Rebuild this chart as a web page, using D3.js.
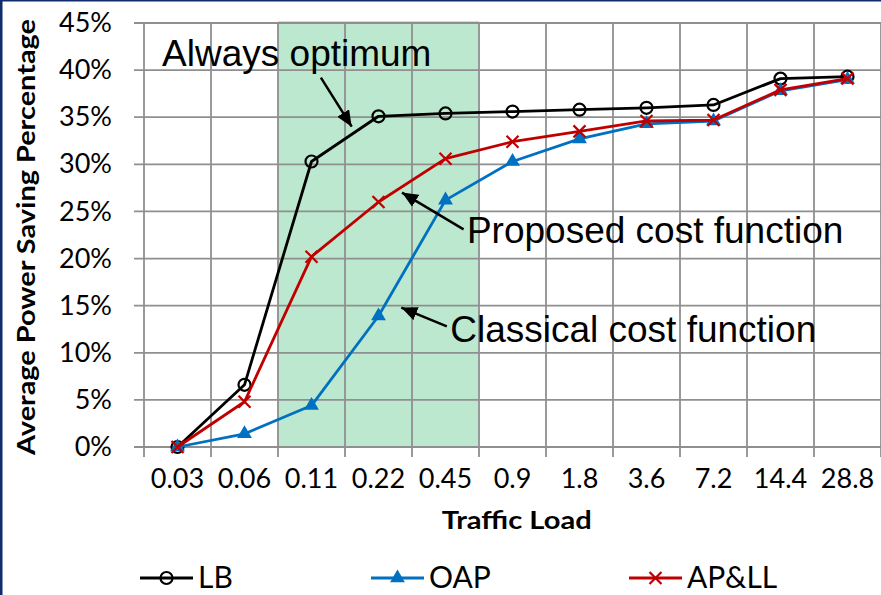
<!DOCTYPE html>
<html>
<head>
<meta charset="utf-8">
<script src="https://cdn.jsdelivr.net/npm/d3@7"></script>
<style>
  html, body { margin: 0; padding: 0; background: #fff; }
  svg { display: block; }
</style>
</head>
<body>
<svg id="chart" width="881" height="595"></svg>
<script>
// ---- data ----
const categories = ["0.03", "0.06", "0.11", "0.22", "0.45", "0.9", "1.8", "3.6", "7.2", "14.4", "28.8"];
const lbValues   = [0, 6.6, 30.3, 35.1, 35.4, 35.6, 35.8, 36.0, 36.3, 39.1, 39.3];
const oapValues  = [0, 1.4, 4.4, 13.9, 26.2, 30.3, 32.7, 34.3, 34.6, 37.8, 39.0];
const apllValues = [0, 4.8, 20.2, 26.0, 30.6, 32.4, 33.5, 34.6, 34.7, 37.9, 39.1];
const yTicks = [0, 5, 10, 15, 20, 25, 30, 35, 40, 45];
const seriesNames = ["LB", "OAP", "AP&LL"];
const highlightRange = ["0.11", "0.45"];
// annotations: positions in (category index, value %) space
const annotations = [
  { text: "Always optimum",          tx: -0.23, ty: 40.4, fromI: 2.14, fromV: 39.2, toI: 2.60, toV: 34.0 },
  { text: "Proposed cost function",  tx: 4.32,  ty: 21.6, fromI: 4.27, fromV: 23.1, toI: 3.35, toV: 27.0 },
  { text: "Classical cost function", tx: 4.07,  ty: 11.1, fromI: 4.02, fromV: 12.8, toI: 3.34, toV: 14.8 }
];

// ---- layout ----
const svg = d3.select("#chart");
const plotLeft = 144, plotRight = 881, plotTop = 23, plotBottom = 447;
const gridColor = "#8f8f8f";

const x = d3.scaleBand().domain(categories).range([plotLeft, plotRight]).padding(0);
const xc = c => x(c) + x.bandwidth() / 2;
const xi = d3.scaleLinear().domain([0, categories.length - 1]).range([xc(categories[0]), xc(categories[categories.length - 1])]);
const y = d3.scaleLinear().domain([0, 45]).range([plotBottom, plotTop]);

// frame border (navy) – only top and left edges visible
svg.append("rect").attr("x", 0).attr("y", 0).attr("width", 881).attr("height", 1.5).attr("fill", "#0f2c6c");
svg.append("rect").attr("x", 0).attr("y", 0).attr("width", 2.5).attr("height", 595).attr("fill", "#0f2c6c");

// highlight band
svg.append("rect")
  .attr("x", x(highlightRange[0]))
  .attr("y", plotTop - 2)
  .attr("width", x(highlightRange[1]) + x.bandwidth() - x(highlightRange[0]))
  .attr("height", plotBottom - plotTop + 2)
  .attr("fill", "#bce8cf");

// horizontal gridlines + y tick stubs
svg.append("g").selectAll("line").data(yTicks).join("line")
  .attr("x1", plotLeft - 10).attr("x2", plotRight)
  .attr("y1", d => y(d)).attr("y2", d => y(d))
  .attr("stroke", gridColor).attr("stroke-width", 1.8);

// vertical gridlines at band boundaries + x tick stubs
const bounds = categories.map(c => x(c)).concat([plotRight]);
svg.append("g").selectAll("line").data(bounds).join("line")
  .attr("x1", d => d).attr("x2", d => d)
  .attr("y1", plotTop).attr("y2", plotBottom + 10)
  .attr("stroke", gridColor).attr("stroke-width", 1.8);

// y axis labels
const yAxis = d3.axisLeft(y).tickValues(yTicks).tickFormat(d => d + "%").tickSize(0).tickPadding(32);
const gy = svg.append("g").attr("transform", `translate(${plotLeft},0)`).call(yAxis);
gy.select(".domain").remove();
gy.selectAll("text").attr("font-family", "Lato, sans-serif").attr("font-size", 27).attr("fill", "#000");

// x axis labels
const xAxis = d3.axisBottom(x).tickSize(0).tickPadding(22);
const gx = svg.append("g").attr("transform", `translate(0,${plotBottom})`).call(xAxis);
gx.select(".domain").remove();
gx.selectAll("text").attr("font-family", "Lato, sans-serif").attr("font-size", 27).attr("fill", "#000");

// axis titles
svg.append("text")
  .attr("x", 516.7).attr("y", 529)
  .attr("text-anchor", "middle")
  .attr("font-family", "Lato, sans-serif").attr("font-weight", "bold").attr("font-size", 24)
  .attr("textLength", 150).attr("lengthAdjust", "spacingAndGlyphs")
  .text("Traffic Load");
svg.append("text")
  .attr("transform", "translate(35,237) rotate(-90)")
  .attr("text-anchor", "middle")
  .attr("font-family", "Lato, sans-serif").attr("font-weight", "bold").attr("font-size", 25)
  .attr("textLength", 436).attr("lengthAdjust", "spacingAndGlyphs")
  .text("Average Power Saving Percentage");

// ---- series ----
const line = d3.line().x((d, i) => xc(categories[i])).y(d => y(d));
const triangle = d3.symbol().type(d3.symbolTriangle).size(95);

function drawLB(g, px, py) {
  g.append("circle").attr("cx", px).attr("cy", py).attr("r", 6)
    .attr("fill", "none").attr("stroke", "#000").attr("stroke-width", 2.2);
}
function drawTri(g, px, py) {
  g.append("path").attr("d", triangle).attr("transform", `translate(${px},${py})`)
    .attr("fill", "#0070c0");
}
function drawX(g, px, py) {
  const s = 6;
  g.append("path").attr("d", `M${px - s},${py - s}L${px + s},${py + s}M${px - s},${py + s}L${px + s},${py - s}`)
    .attr("stroke", "#c00000").attr("stroke-width", 2.2).attr("fill", "none");
}

const series = [
  { values: lbValues, color: "#000000", marker: drawLB },
  { values: oapValues, color: "#0070c0", marker: drawTri },
  { values: apllValues, color: "#c00000", marker: drawX }
];

series.forEach(s => {
  const g = svg.append("g");
  g.append("path").attr("d", line(s.values)).attr("fill", "none")
    .attr("stroke", s.color).attr("stroke-width", 2.8).attr("stroke-linejoin", "round");
  s.values.forEach((v, i) => s.marker(g, xc(categories[i]), y(v)));
});

// ---- annotations ----
const defs = svg.append("defs");
defs.append("marker").attr("id", "arrow")
  .attr("viewBox", "0 0 16 14").attr("refX", 16).attr("refY", 7)
  .attr("markerWidth", 16).attr("markerHeight", 14)
  .attr("markerUnits", "userSpaceOnUse").attr("orient", "auto")
  .append("path").attr("d", "M0,0L16,7L0,14Z").attr("fill", "#000");

annotations.forEach(a => {
  svg.append("line")
    .attr("x1", xi(a.fromI)).attr("y1", y(a.fromV))
    .attr("x2", xi(a.toI)).attr("y2", y(a.toV))
    .attr("stroke", "#000").attr("stroke-width", 2.5)
    .attr("marker-end", "url(#arrow)");
  svg.append("text")
    .attr("x", xi(a.tx)).attr("y", y(a.ty))
    .attr("font-family", "'Liberation Sans', Arial, sans-serif").attr("font-size", 37)
    .attr("fill", "#000")
    .text(a.text);
});

// ---- legend ----
const legendY = 578;
const legendItems = [
  { name: seriesNames[0], x0: 140, color: "#000000", marker: drawLB },
  { name: seriesNames[1], x0: 371, color: "#0070c0", marker: drawTri },
  { name: seriesNames[2], x0: 629, color: "#c00000", marker: drawX }
];
legendItems.forEach(it => {
  const g = svg.append("g");
  g.append("line").attr("x1", it.x0).attr("x2", it.x0 + 53)
    .attr("y1", legendY).attr("y2", legendY)
    .attr("stroke", it.color).attr("stroke-width", 2.8);
  it.marker(g, it.x0 + 26.5, legendY);
  g.append("text").attr("x", it.x0 + 58).attr("y", legendY + 10)
    .attr("font-family", "Lato, sans-serif").attr("font-size", 30).attr("fill", "#000")
    .text(it.name);
});
</script>
</body>
</html>
